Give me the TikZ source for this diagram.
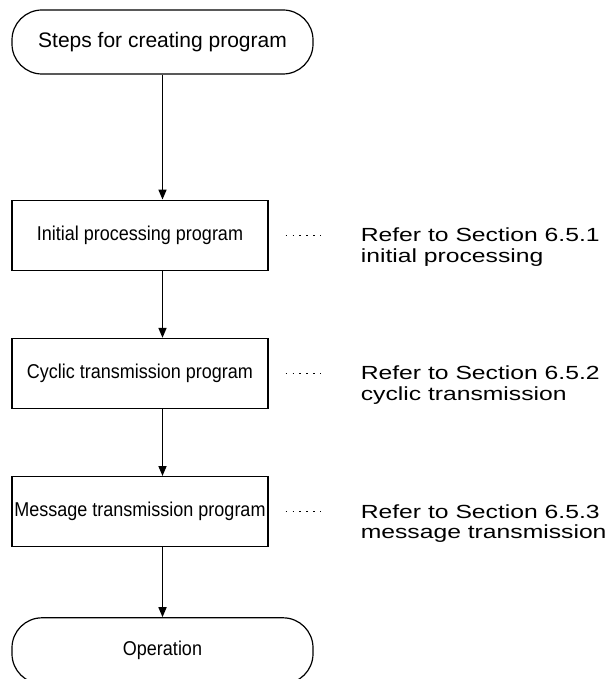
\documentclass[tikz,border=0pt]{standalone}
\usepackage{fontspec}
\setmainfont{Liberation Sans}
\newfontfamily\reffont[FakeStretch=1.3]{Liberation Sans}
\newfontfamily\boxfont[FakeStretch=0.9]{Liberation Sans}
\usetikzlibrary{positioning,arrows.meta}

\begin{document}
\begin{tikzpicture}[
    font=\boxfont\fontsize{20}{24}\selectfont,
    term/.style={rectangle, draw=black, rounded corners=30pt, line width=1.2pt,
                 minimum width=301pt, minimum height=64pt, inner sep=0pt},
    proc/.style={rectangle, draw=black, line width=1.2pt,
                 minimum width=256pt, minimum height=70pt, inner sep=0pt},
    ref/.style={align=left, anchor=north west, inner sep=0pt,
                font=\reffont\fontsize{19}{20.5}\selectfont},
    arr/.style={-{Triangle[length=10pt,width=8pt]}, line width=1.6pt},
    leader/.style={line width=1.3pt, dash pattern=on 1.3pt off 5.6pt}
]
    \useasboundingbox (0,0) rectangle (614pt,-679pt);
    \node[term, font=\rmfamily\fontsize{21}{24}\selectfont] (start) at (162.5pt,-42pt) {Steps for creating program};
    \node[proc, below=125pt of start.south west, anchor=north west] (init) {Initial processing program};
    \node[proc, below=67pt of init] (cyc) {Cyclic transmission program};
    \node[proc, below=67pt of cyc] (msg) {Message transmission program};
    \node[term, below=70pt of msg.south west, anchor=north west, minimum height=66pt] (op) {Operation};
    % references to the sections
    \node[ref] (r1) at ([xshift=92pt, yshift=7.5pt]init.east) {Refer to Section 6.5.1\\initial processing};
    \node[ref] (r2) at ([xshift=92pt, yshift=7.5pt]cyc.east) {Refer to Section 6.5.2\\cyclic transmission};
    \node[ref] (r3) at ([xshift=92pt, yshift=7.5pt]msg.east) {Refer to Section 6.5.3\\message transmission};
    \draw[leader] ([xshift=17pt]init.east) -- ([xshift=54pt]init.east);
    \draw[leader] ([xshift=17pt]cyc.east) -- ([xshift=54pt]cyc.east);
    \draw[leader] ([xshift=17pt]msg.east) -- ([xshift=54pt]msg.east);
    \draw[arr] (start.south) -- (start.south |- init.north);
    \draw[arr] (start.south |- init.south) -- (start.south |- cyc.north);
    \draw[arr] (start.south |- cyc.south) -- (start.south |- msg.north);
    \draw[arr] (start.south |- msg.south) -- (op.north);
\end{tikzpicture}
\end{document}
